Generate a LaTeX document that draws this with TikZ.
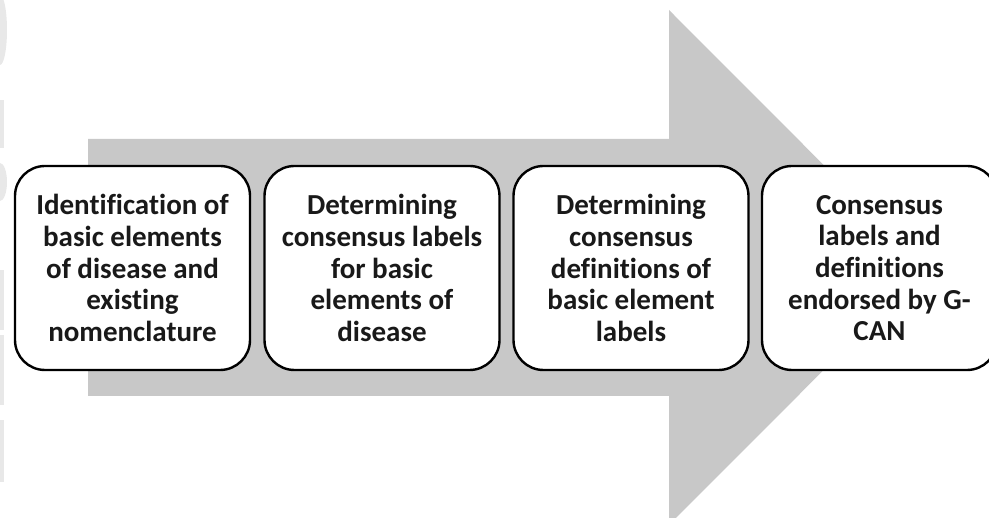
\documentclass[tikz,border=0pt]{standalone}
\usepackage{fontspec}
\setmainfont[Ligatures={NoCommon,NoRequired,NoContextual}]{Carlito}
\definecolor{arrowgray}{RGB}{200,200,200}
\definecolor{wmgray}{RGB}{232,232,232}
\definecolor{txt}{RGB}{25,25,25}
\tikzset{
  stepbox/.style={draw=black, line width=2.4pt, fill=white, rounded corners=30pt,
    minimum width=235pt, minimum height=204pt, align=center, text=txt,
    font=\bfseries\fontsize{29}{31.7}\selectfont, inner sep=0pt},
  wm/.style={fill=wmgray, draw=none}
}
\begin{document}
\begin{tikzpicture}[x=1pt,y=-1pt]
\useasboundingbox (0,0) rectangle (989,518);
% faint watermark remnants on the left edge
\fill[wm] (0,-5) arc[start angle=-90,end angle=90,x radius=7,y radius=35] -- cycle;
\fill[wm] (0,100) rectangle (4,148);
\fill[wm] (0,163) arc[start angle=-90,end angle=90,x radius=7,y radius=19] -- cycle;
\fill[wm] (0,270) rectangle (4,330);
\fill[wm] (0,335) rectangle (4,405);
\fill[wm] (0,420) rectangle (4,482);
% big arrow
\fill[arrowgray] (88,139) -- (669,139) -- (669,10) -- (926,267.5) -- (669,525)
  -- (669,396) -- (88,396) -- cycle;
% boxes
\node[stepbox] (b1) at (132.5,268) {Identification of\\basic elements\\of disease and\\existing\\nomenclature};
\node[stepbox] (b2) at (382,268) {Determining\\consensus labels\\for basic\\elements of\\disease};
\node[stepbox] (b3) at (631,268) {Determining\\consensus\\definitions of\\basic element\\labels};
\node[stepbox] (b4) at (879.5,268) {Consensus\\labels and\\definitions\\endorsed by G-\\CAN};
\end{tikzpicture}
\end{document}
